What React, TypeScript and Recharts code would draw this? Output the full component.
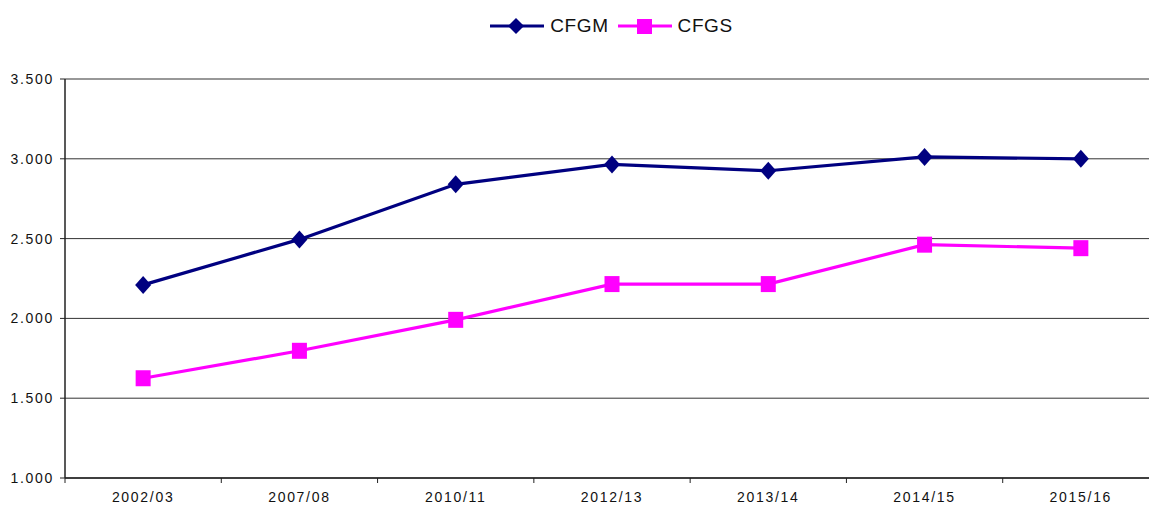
import React from "react";
import {
  LineChart,
  Line,
  XAxis,
  YAxis,
  CartesianGrid,
  Legend,
  ReferenceLine,
} from "recharts";

const years = ["2002/03", "2007/08", "2010/11", "2012/13", "2013/14", "2014/15", "2015/16"];
const cfgm = [2210, 2495, 2840, 2965, 2925, 3012, 3000];
const cfgs = [1625, 1797, 1991, 2215, 2215, 2462, 2440];
const yTicks = [1000, 1500, 2000, 2500, 3000, 3500];

const NAVY = "#000080";
const MAGENTA = "#FF00FF";
const FONT = "'Liberation Sans', Arial, sans-serif";

const CHART_W = 1160;
const Y_W = 65;
const PLOT_W = CHART_W - Y_W - 1;
const HALF_BAND = PLOT_W / years.length / 2;

const data = years.map((y, i) => ({ year: y, CFGM: cfgm[i], CFGS: cfgs[i] }));

const fmt = (v: number) => {
  const s = String(Math.round(v));
  return s.replace(/\B(?=(\d{3})+(?!\d))/g, ".");
};

const Diamond = (props: any) => {
  const { cx, cy } = props;
  if (cx == null || cy == null) return null;
  return (
    <path
      d={`M${cx},${cy - 9} L${cx + 8},${cy} L${cx},${cy + 9} L${cx - 8},${cy} Z`}
      fill={NAVY}
    />
  );
};

const Square = (props: any) => {
  const { cx, cy } = props;
  if (cx == null || cy == null) return null;
  return <rect x={cx - 7.5} y={cy - 8} width={15} height={16} fill={MAGENTA} />;
};

const XTick = (props: any) => {
  const { x, y, payload } = props;
  return (
    <g>
      <line x1={x - HALF_BAND} x2={x - HALF_BAND} y1={y} y2={y + 5} stroke="#222" />
      <text
        x={x}
        y={y + 24}
        textAnchor="middle"
        fontSize={14}
        fontFamily={FONT}
        letterSpacing={1.7}
        fill="#111"
      >
        {payload.value}
      </text>
    </g>
  );
};

const LegendItem = ({ color, label, square }: { color: string; label: string; square?: boolean }) => (
  <span style={{ display: "inline-flex", alignItems: "center", marginRight: 8 }}>
    <svg width={56} height={20}>
      <line x1={1} x2={55} y1={10} y2={10} stroke={color} strokeWidth={3} />
      {square ? (
        <rect x={20} y={3} width={15} height={15} fill={color} />
      ) : (
        <path d="M27,2 L35,10 L27,18 L19,10 Z" fill={color} />
      )}
    </svg>
    <span style={{ marginLeft: 5, fontSize: 19, letterSpacing: 0.6, color: "#111" }}>{label}</span>
  </span>
);

const LegendContent = () => (
  <div
    style={{
      height: 79,
      display: "flex",
      justifyContent: "center",
      alignItems: "flex-start",
      paddingTop: 15,
      boxSizing: "border-box",
      fontFamily: FONT,
      paddingLeft: 70,
    }}
  >
    <LegendItem color={NAVY} label="CFGM" />
    <LegendItem color={MAGENTA} label="CFGS" square />
  </div>
);

export default function App() {
  return (
    <div
      style={{
        position: "absolute",
        left: 0,
        top: 0,
        width: 1149,
        height: 506,
        overflow: "hidden",
        background: "#fff",
      }}
    >
      <LineChart width={CHART_W} height={506} data={data} margin={{ top: 0, right: 1, bottom: 0, left: 0 }}>
        <Legend
          verticalAlign="top"
          content={<LegendContent />}
          wrapperStyle={{ top: 0, left: 0, width: CHART_W }}
        />
        <CartesianGrid vertical={false} stroke="#333" strokeWidth={1} />
        <ReferenceLine y={3500} stroke="#999" strokeWidth={1.5} />
        <XAxis
          dataKey="year"
          tickLine={false}
          tickSize={0}
          tickMargin={0}
          height={28}
          padding={{ left: HALF_BAND, right: HALF_BAND }}
          axisLine={{ stroke: "#222", strokeWidth: 1.5 }}
          tick={<XTick />}
          interval={0}
        />
        <YAxis
          domain={[1000, 3500]}
          ticks={yTicks}
          width={Y_W}
          tickFormatter={fmt}
          tickSize={5}
          tickMargin={6}
          axisLine={{ stroke: "#222", strokeWidth: 1.5 }}
          tickLine={{ stroke: "#222" }}
          tick={{ fontSize: 14, fill: "#111", fontFamily: FONT, letterSpacing: 1.7 }}
        />
        <Line
          dataKey="CFGM"
          stroke={NAVY}
          strokeWidth={3.2}
          dot={<Diamond />}
          activeDot={false}
          isAnimationActive={false}
        />
        <Line
          dataKey="CFGS"
          stroke={MAGENTA}
          strokeWidth={3.2}
          dot={<Square />}
          activeDot={false}
          isAnimationActive={false}
        />
      </LineChart>
    </div>
  );
}
